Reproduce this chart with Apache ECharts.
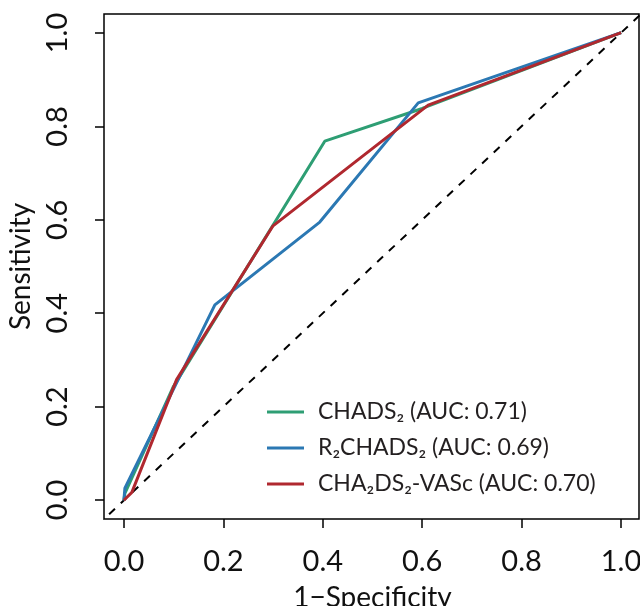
<!DOCTYPE html>
<html>
<head>
<meta charset="utf-8">
<script src="https://cdn.jsdelivr.net/npm/echarts@6/dist/echarts.min.js"></script>
<style>html,body{margin:0;padding:0;background:#fff}#c{width:640px;height:606px}</style>
</head>
<body>
<div id="c"></div>
<script>
// Data (1-Specificity, Sensitivity)
const chads2 = [[0,0],[0.002,0.015],[0.099,0.242],[0.404,0.768],[0.600,0.838],[1,1]];
const r2chads2 = [[0,0],[0.002,0.026],[0.183,0.418],[0.394,0.595],[0.592,0.850],[1,1]];
const cha2ds2vasc = [[0,0],[0.016,0.017],[0.106,0.258],[0.300,0.587],[0.612,0.845],[1,1]];
const chanceLine = [[-0.1,-0.1],[1.1,1.1]];
const seriesNames = ['CHADS₂ (AUC: 0.71)','R₂CHADS₂ (AUC: 0.69)','CHA₂DS₂-VASc (AUC: 0.70)'];
const tickMin = 0, tickMax = 1, tickStep = 0.2;
const xTitle = '1−Specificity';
const yTitle = 'Sensitivity';

const FONT = 'Lato, "Noto Sans", sans-serif';
const colors = ['#2E9E74','#2B78B3','#B0282F'];
const chart = echarts.init(document.getElementById('c'), null, {renderer:'canvas'});
const tickAxisCommon = {type:'value', min:tickMin, max:tickMax, interval:tickStep, splitLine:{show:false},
  axisLine:{show:false, onZero:false},
  axisTick:{show:true, inside:false, length:9, lineStyle:{color:'#000', width:1.5}}};
chart.setOption({
  animation:false,
  backgroundColor:'#fff',
  grid:[
    // box grid (R's plot region, 4% extension)
    {left:104, top:14, right:1, bottom:87, containLabel:false, outerBoundsMode:'none', show:true, borderColor:'#000', borderWidth:1.5, backgroundColor:'transparent'},
    // data-range grid used for ticks and labels
    {left:124, top:33, right:19, bottom:106, containLabel:false, outerBoundsMode:'none', show:false}
  ],
  xAxis:[
    {gridIndex:0, type:'value', min:-0.04, max:1.036, show:false},
    Object.assign({}, tickAxisCommon, {gridIndex:1, position:'bottom', offset:19,
      name:xTitle, nameLocation:'middle', nameGap:65,
      nameTextStyle:{fontFamily:FONT, fontSize:28, color:'#111'},
      axisLabel:{formatter:v=>v.toFixed(1), margin:28, fontFamily:FONT, fontSize:29, color:'#111'}})
  ],
  yAxis:[
    {gridIndex:0, type:'value', min:-0.04, max:1.04, show:false},
    Object.assign({}, tickAxisCommon, {gridIndex:1, position:'left', offset:20,
      name:yTitle, nameLocation:'middle', nameGap:49, nameRotate:90,
      nameTextStyle:{fontFamily:FONT, fontSize:28, color:'#111'},
      axisLabel:{formatter:v=>v.toFixed(1), rotate:90, margin:32, fontFamily:FONT, fontSize:29, color:'#111'}})
  ],
  legend:{show:true, orient:'vertical', left:262, top:394, icon:'rect', itemWidth:37, itemHeight:3, itemGap:10,
    data:seriesNames,
    textStyle:{fontFamily:FONT, fontSize:23, lineHeight:26, color:'#231f20', padding:[0,0,0,9]}
  },
  series:[
    {type:'line', name:'chance', xAxisIndex:0, yAxisIndex:0, data:chanceLine, symbol:'none', silent:true, clip:true,
      lineStyle:{color:'#000', width:2, type:[8,8]}, z:1},
    {type:'line', name:seriesNames[0], xAxisIndex:0, yAxisIndex:0, data:chads2, symbol:'none', clip:true, lineStyle:{color:colors[0], width:3}, itemStyle:{color:colors[0]}, z:2},
    {type:'line', name:seriesNames[1], xAxisIndex:0, yAxisIndex:0, data:r2chads2, symbol:'none', clip:true, lineStyle:{color:colors[1], width:3}, itemStyle:{color:colors[1]}, z:3},
    {type:'line', name:seriesNames[2], xAxisIndex:0, yAxisIndex:0, data:cha2ds2vasc, symbol:'none', clip:true, lineStyle:{color:colors[2], width:3}, itemStyle:{color:colors[2]}, z:4}
  ]
});
</script>
</body>
</html>
